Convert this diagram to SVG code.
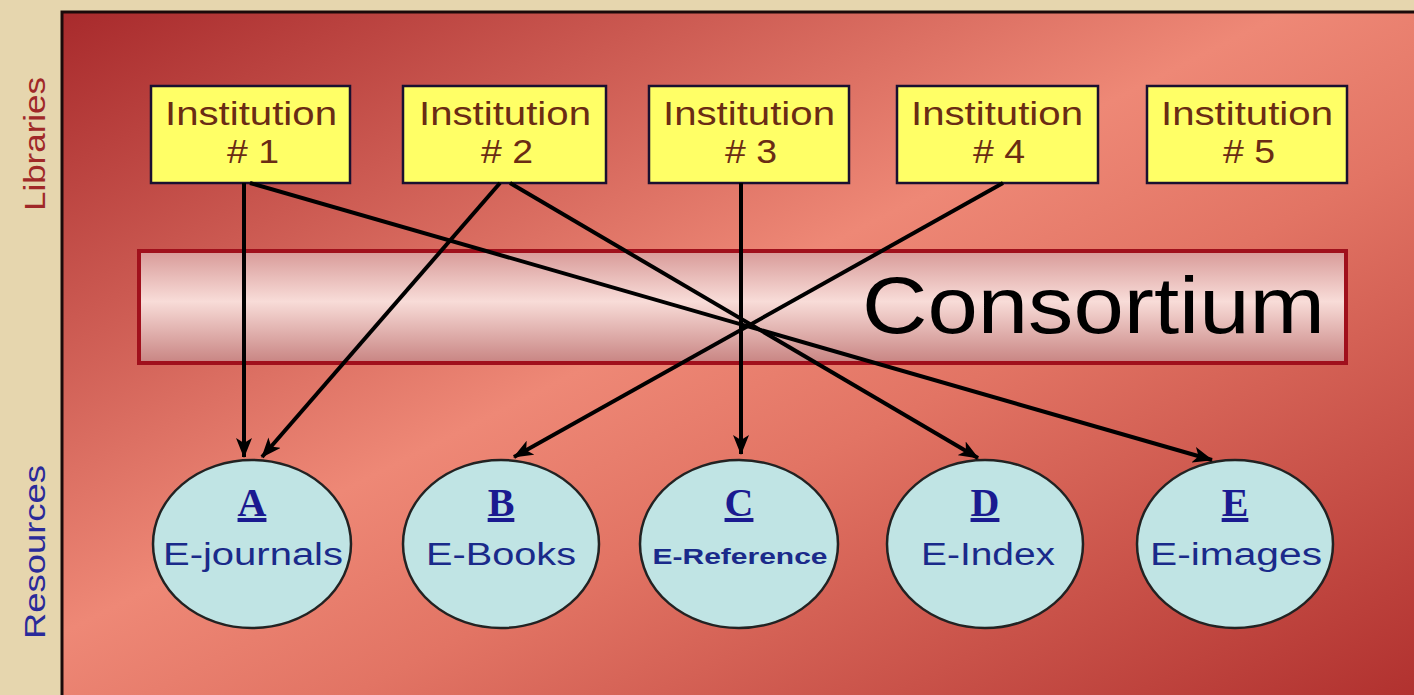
<svg xmlns="http://www.w3.org/2000/svg" width="1414" height="695" viewBox="0 0 1414 695">
<defs>
<linearGradient id="bg" x1="0" y1="0" x2="1" y2="1">
<stop offset="0" stop-color="#a82a2c"/>
<stop offset="0.45" stop-color="#ee8876"/>
<stop offset="0.6" stop-color="#e27464"/>
<stop offset="1" stop-color="#b0302e"/>
</linearGradient>
<linearGradient id="band" x1="0" y1="0" x2="0" y2="1">
<stop offset="0" stop-color="#d89a98"/>
<stop offset="0.45" stop-color="#f8dcd8"/>
<stop offset="1" stop-color="#c88482"/>
</linearGradient>
<marker id="arr" viewBox="0 0 20 16" refX="19" refY="8" markerWidth="20" markerHeight="16" orient="auto" markerUnits="userSpaceOnUse">
<path d="M0,0 L20,8 L0,16 L5,8 Z" fill="#000"/>
</marker>
</defs>
<style>
.inst rect{fill:#ffff66;stroke:#1a1030;stroke-width:2.5}
.inst text{font-family:"Liberation Sans",Arial,sans-serif;font-size:33px;fill:#6a2c14;text-anchor:middle}
.res ellipse{fill:#c0e4e4;stroke:#222;stroke-width:2.5}
.res .let{font-family:"Liberation Serif","Times New Roman",serif;font-weight:bold;font-size:40px;fill:#1a1a90;text-anchor:middle;text-decoration:underline}
.res .lbl{font-family:"Liberation Sans",Arial,sans-serif;font-size:31px;fill:#1a2a8a;text-anchor:middle}
.res .sm{font-size:22px;font-weight:bold}
.conn line{stroke:#000;stroke-width:4;marker-end:url(#arr)}
.side{font-family:"Liberation Sans",Arial,sans-serif;font-size:30px;text-anchor:middle}
</style>
<rect x="0" y="0" width="1414" height="695" fill="#e6d6ae"/>
<rect x="62" y="12" width="1360" height="690" fill="url(#bg)" stroke="#1a0a0a" stroke-width="3"/>
<text class="side" transform="translate(45,144) rotate(-90)" fill="#a02828" textLength="134" lengthAdjust="spacingAndGlyphs">Libraries</text>
<text class="side" transform="translate(45,552) rotate(-90)" fill="#2a2a9a" textLength="174" lengthAdjust="spacingAndGlyphs">Resources</text>
<g id="consortium">
<rect x="139" y="251" width="1207" height="112" fill="url(#band)" stroke="#a0101c" stroke-width="4"/>
<text x="1325" y="333" font-family="Liberation Sans,Arial,sans-serif" font-size="80" fill="#000" text-anchor="end" textLength="463" lengthAdjust="spacingAndGlyphs">Consortium</text>
</g>
<g id="inst1" class="inst"><rect x="151" y="86" width="199" height="97"/><text x="251" y="125" textLength="172" lengthAdjust="spacingAndGlyphs">Institution</text><text x="253" y="163" textLength="52" lengthAdjust="spacingAndGlyphs"># 1</text></g>
<g id="inst2" class="inst"><rect x="403" y="86" width="203" height="97"/><text x="505" y="125" textLength="172" lengthAdjust="spacingAndGlyphs">Institution</text><text x="507" y="163" textLength="52" lengthAdjust="spacingAndGlyphs"># 2</text></g>
<g id="inst3" class="inst"><rect x="649" y="86" width="200" height="97"/><text x="749" y="125" textLength="172" lengthAdjust="spacingAndGlyphs">Institution</text><text x="751" y="163" textLength="52" lengthAdjust="spacingAndGlyphs"># 3</text></g>
<g id="inst4" class="inst"><rect x="897" y="86" width="201" height="97"/><text x="997" y="125" textLength="172" lengthAdjust="spacingAndGlyphs">Institution</text><text x="999" y="163" textLength="52" lengthAdjust="spacingAndGlyphs"># 4</text></g>
<g id="inst5" class="inst"><rect x="1147" y="86" width="200" height="97"/><text x="1247" y="125" textLength="172" lengthAdjust="spacingAndGlyphs">Institution</text><text x="1249" y="163" textLength="52" lengthAdjust="spacingAndGlyphs"># 5</text></g>
<g id="resA" class="res"><ellipse cx="252" cy="544" rx="99" ry="84"/><text class="let" x="252" y="516">A</text><text class="lbl" x="253" y="565" textLength="180" lengthAdjust="spacingAndGlyphs">E-journals</text></g>
<g id="resB" class="res"><ellipse cx="501" cy="544" rx="98" ry="84"/><text class="let" x="501" y="516">B</text><text class="lbl" x="501" y="565" textLength="150" lengthAdjust="spacingAndGlyphs">E-Books</text></g>
<g id="resC" class="res"><ellipse cx="739" cy="544" rx="99" ry="84"/><text class="let" x="739" y="516">C</text><text class="lbl sm" x="740" y="564" textLength="175" lengthAdjust="spacingAndGlyphs">E-Reference</text></g>
<g id="resD" class="res"><ellipse cx="985" cy="544" rx="98" ry="84"/><text class="let" x="985" y="516">D</text><text class="lbl" x="988" y="565" textLength="134" lengthAdjust="spacingAndGlyphs">E-Index</text></g>
<g id="resE" class="res"><ellipse cx="1235" cy="544" rx="98" ry="84"/><text class="let" x="1235" y="516">E</text><text class="lbl" x="1236" y="565" textLength="172" lengthAdjust="spacingAndGlyphs">E-images</text></g>
<g id="connectors" class="conn">
<line x1="244" y1="183" x2="244" y2="457"/>
<line x1="250" y1="183" x2="1212" y2="460"/>
<line x1="500" y1="183" x2="262" y2="457"/>
<line x1="510" y1="183" x2="978" y2="458"/>
<line x1="741" y1="183" x2="741" y2="454"/>
<line x1="1003" y1="183" x2="514" y2="457"/>
</g>
</svg>
